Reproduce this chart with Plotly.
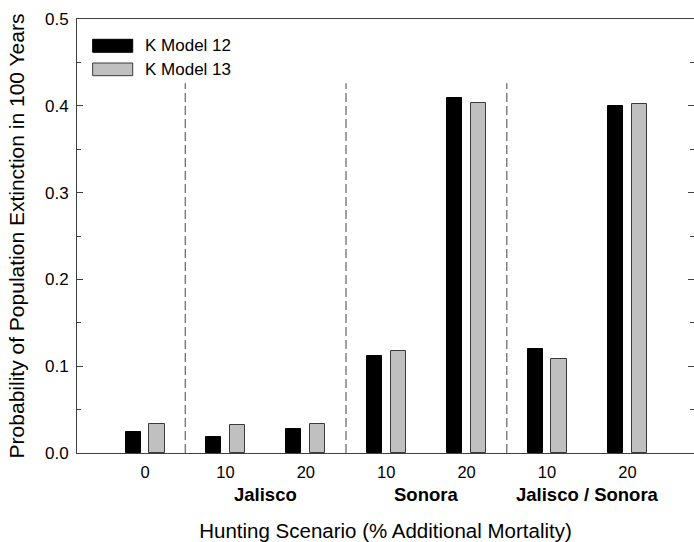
import plotly.graph_objects as go

# Extinction probabilities per hunting scenario
scenario_ticks = ["0", "10", "20", "10", "20", "10", "20"]
region_labels = ["Jalisco", "Sonora", "Jalisco / Sonora"]
region_centers = [1.5, 3.5, 5.5]
divider_positions = [0.5, 2.5, 4.5]
k_model_12 = [0.0242, 0.0188, 0.0273, 0.1114, 0.4086, 0.1202, 0.3998]
k_model_13 = [0.0338, 0.0319, 0.0330, 0.1179, 0.4036, 0.1087, 0.4025]

FONT = "Arial, Liberation Sans, sans-serif"
x_pos = list(range(len(scenario_ticks)))
bar_w = 0.187

fig = go.Figure()
fig.add_trace(go.Bar(
    x=x_pos, y=k_model_12, name="K Model 12",
    width=bar_w, offset=-0.149 - bar_w / 2,
    marker=dict(color="#000000", line=dict(color="#000000", width=1)),
    showlegend=False,
))
fig.add_trace(go.Bar(
    x=x_pos, y=k_model_13, name="K Model 13",
    width=bar_w, offset=0.149 - bar_w / 2,
    marker=dict(color="#c0c0c0", line=dict(color="#3a3a3a", width=1)),
    showlegend=False,
))
# carrier trace for the right-hand tick axis
fig.add_trace(go.Scatter(x=[0], y=[0], yaxis="y2", mode="markers",
                         marker=dict(opacity=0), hoverinfo="skip", showlegend=False))

shapes = []
for xd in divider_positions:
    shapes.append(dict(type="line", xref="x", yref="y", x0=xd, x1=xd, y0=0, y1=0.426,
                       line=dict(color="#444444", width=1, dash="9px,4px")))

# legend swatches
legend_items = [("K Model 12", "#000000", "#000000", 0.9532, 0.9233),
                ("K Model 13", "#c0c0c0", "#3a3a3a", 0.8986, 0.8694)]
annotations = []
for name, fill, edge, ytop, ybot in legend_items:
    shapes.append(dict(type="rect", xref="paper", yref="paper",
                       x0=0.0254, x1=0.0903, y0=ybot, y1=ytop,
                       fillcolor=fill, line=dict(color=edge, width=1)))
    annotations.append(dict(text=name, xref="paper", yref="paper", x=0.1065,
                            y=(ytop + ybot) / 2, xanchor="left", yanchor="middle",
                            showarrow=False, font=dict(family=FONT, size=17, color="#000")))

for lab, xc in zip(region_labels, region_centers):
    annotations.append(dict(text="<b>%s</b>" % lab, xref="x", yref="paper", x=xc, y=-0.0945,
                            xanchor="center", yanchor="middle", showarrow=False,
                            font=dict(family=FONT, size=18.5, color="#000")))

fig.update_layout(
    width=694, height=542,
    margin=dict(l=77, r=0, t=19, b=89),
    paper_bgcolor="white", plot_bgcolor="white",
    font=dict(family=FONT, color="#000"),
    shapes=shapes, annotations=annotations,
    bargap=0,
    xaxis=dict(
        range=[-0.846, 6.828], tickmode="array", tickvals=x_pos, ticktext=scenario_ticks,
        showline=True, linecolor="#404040", linewidth=1, mirror=True,
        ticks="", showgrid=False, zeroline=False, ticklabelstandoff=4,
        tickfont=dict(family=FONT, size=16.5),
        title=dict(text="Hunting Scenario (% Additional Mortality)",
                   font=dict(family=FONT, size=20.5), standoff=45),
    ),
    yaxis=dict(
        range=[0, 0.5], dtick=0.1, tickformat=".1f",
        ticks="inside", ticklen=6, tickcolor="#404040",
        minor=dict(ticks="inside", ticklen=4, dtick=0.05, tickcolor="#404040"),
        showline=True, linecolor="#404040", linewidth=1,
        showgrid=False, zeroline=False, ticklabelstandoff=4,
        tickfont=dict(family=FONT, size=17),
        title=dict(text="Probability of Population Extinction in 100 Years",
                   font=dict(family=FONT, size=21), standoff=14),
    ),
    yaxis2=dict(
        overlaying="y", side="right", range=[0, 0.5], dtick=0.1,
        ticks="inside", ticklen=6, tickcolor="#404040",
        minor=dict(ticks="inside", ticklen=4, dtick=0.05, tickcolor="#404040"),
        showticklabels=False, showline=False, showgrid=False, zeroline=False,
    ),
)

fig.write_html("out.html")
